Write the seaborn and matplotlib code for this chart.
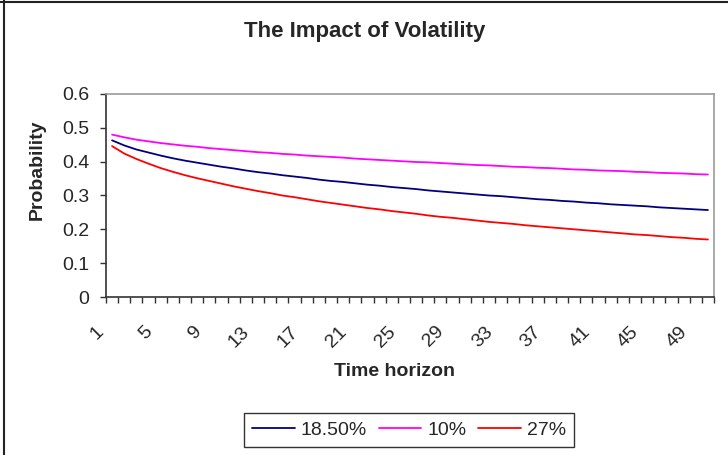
import matplotlib
matplotlib.use("Agg")
import matplotlib.pyplot as plt
from matplotlib.lines import Line2D
from matplotlib.ticker import FixedLocator, FuncFormatter
from matplotlib.transforms import ScaledTranslation
import pandas as pd
import seaborn as sns

# time horizon categories and the three volatility series
horizon = list(range(1, 51))
series_names = ["18.50%", "10%", "27%"]
vol_185 = [0.463, 0.448, 0.436, 0.427, 0.418, 0.410, 0.403, 0.397, 0.391, 0.385,
           0.380, 0.374, 0.369, 0.365, 0.360, 0.356, 0.352, 0.347, 0.343, 0.340,
           0.336, 0.332, 0.329, 0.325, 0.322, 0.319, 0.315, 0.312, 0.309, 0.306,
           0.303, 0.300, 0.298, 0.295, 0.292, 0.289, 0.287, 0.284, 0.282, 0.279,
           0.277, 0.274, 0.272, 0.270, 0.268, 0.265, 0.263, 0.261, 0.259, 0.257]
vol_10 = [0.480, 0.472, 0.465, 0.460, 0.455, 0.451, 0.447, 0.444, 0.440, 0.437,
          0.434, 0.431, 0.428, 0.426, 0.423, 0.421, 0.418, 0.416, 0.414, 0.412,
          0.409, 0.407, 0.405, 0.403, 0.401, 0.399, 0.398, 0.396, 0.394, 0.392,
          0.390, 0.389, 0.387, 0.385, 0.384, 0.382, 0.381, 0.379, 0.377, 0.376,
          0.374, 0.373, 0.372, 0.370, 0.369, 0.367, 0.366, 0.365, 0.363, 0.362]
vol_27 = [0.446, 0.424, 0.408, 0.394, 0.381, 0.370, 0.360, 0.351, 0.343, 0.335,
          0.327, 0.320, 0.313, 0.307, 0.300, 0.295, 0.289, 0.283, 0.278, 0.273,
          0.268, 0.263, 0.259, 0.254, 0.250, 0.246, 0.241, 0.237, 0.234, 0.230,
          0.226, 0.222, 0.219, 0.216, 0.212, 0.209, 0.206, 0.203, 0.200, 0.197,
          0.194, 0.191, 0.188, 0.185, 0.183, 0.180, 0.177, 0.175, 0.172, 0.170]
x_labels = [1, 5, 9, 13, 17, 21, 25, 29, 33, 37, 41, 45, 49]
y_ticks = [0, 0.1, 0.2, 0.3, 0.4, 0.5, 0.6]

colors = {"18.50%": "#000080", "10%": "#FF00FF", "27%": "#FF0000"}

df = pd.DataFrame({
    "Time horizon": horizon * 3,
    "Probability": vol_185 + vol_10 + vol_27,
    "series": [series_names[0]] * 50 + [series_names[1]] * 50 + [series_names[2]] * 50,
})

sns.set_style("white")
plt.rcParams["font.family"] = ["Liberation Sans", "DejaVu Sans"]

fig = plt.figure(figsize=(7.28, 4.55), dpi=100)
ax = fig.add_axes([106 / 728, 1 - 297 / 455, 608 / 728, 203 / 455])

sns.lineplot(data=df, x="Time horizon", y="Probability", hue="series",
             hue_order=series_names, palette=colors, linewidth=1.3, ax=ax)

ax.set_xlim(0.5, 50.5)
ax.set_ylim(0, 0.6)
ax.set_xlabel("")
ax.set_ylabel("")

# ticks on category boundaries, labels on the boundary left of each category
ax.xaxis.set_major_locator(FixedLocator([t - 0.5 for t in x_labels]))
ax.set_xticklabels([str(t) for t in x_labels])
ax.xaxis.set_minor_locator(FixedLocator([t + 0.5 for t in [0] + horizon]))
ax.tick_params(axis="x", which="both", length=4, width=1, color="#333333",
               direction="out", bottom=True)
ax.tick_params(axis="x", which="major", pad=19, labelsize=14, labelrotation=45)

ax.set_yticks(y_ticks)
ax.yaxis.set_major_formatter(FuncFormatter(lambda v, _: f"{v:g}"))
ax.tick_params(axis="y", length=4, width=1, color="#333333", direction="out",
               pad=8, labelsize=14, left=True)

shift = ScaledTranslation(-5 / 100, 0, fig.dpi_scale_trans)
for lbl in ax.get_xticklabels():
    lbl.set_ha("right")
    lbl.set_va("center")
    lbl.set_rotation_mode("anchor")
    lbl.set_transform(lbl.get_transform() + shift)

for side in ["left", "bottom"]:
    ax.spines[side].set_color("#333333")
    ax.spines[side].set_linewidth(1.2)
for side in ["top", "right"]:
    ax.spines[side].set_color("#9a9a9a")
    ax.spines[side].set_linewidth(1.2)

handles, labels = ax.get_legend_handles_labels()
ax.get_legend().remove()
fig.legend(handles, labels, loc="center", bbox_to_anchor=(409 / 728, 1 - 430 / 455),
           ncol=3, frameon=True, fancybox=False, edgecolor="#333333",
           fontsize=14, handlelength=2.2, handletextpad=0.3, columnspacing=0.6,
           borderpad=0.4, framealpha=1)

fig.text(365 / 728, 1 - 31 / 455, "The Impact of Volatility", ha="center", va="center",
         fontsize=16, fontweight="bold")
fig.text(37 / 728, 1 - 170 / 455, "Probability", ha="center", va="center",
         rotation=90, fontsize=14, fontweight="bold")
fig.text(395 / 728, 1 - 371 / 455, "Time horizon", ha="center", va="center",
         fontsize=14, fontweight="bold")

# outer chart border (left and top edges visible)
fig.add_artist(Line2D([3.5 / 728, 3.5 / 728], [0, 1], transform=fig.transFigure,
                      color="#222222", linewidth=1.5))
fig.add_artist(Line2D([0, 1], [1 - 1.5 / 455, 1 - 1.5 / 455], transform=fig.transFigure,
                      color="#222222", linewidth=1.5))

fig.savefig("out.png", dpi=100)
